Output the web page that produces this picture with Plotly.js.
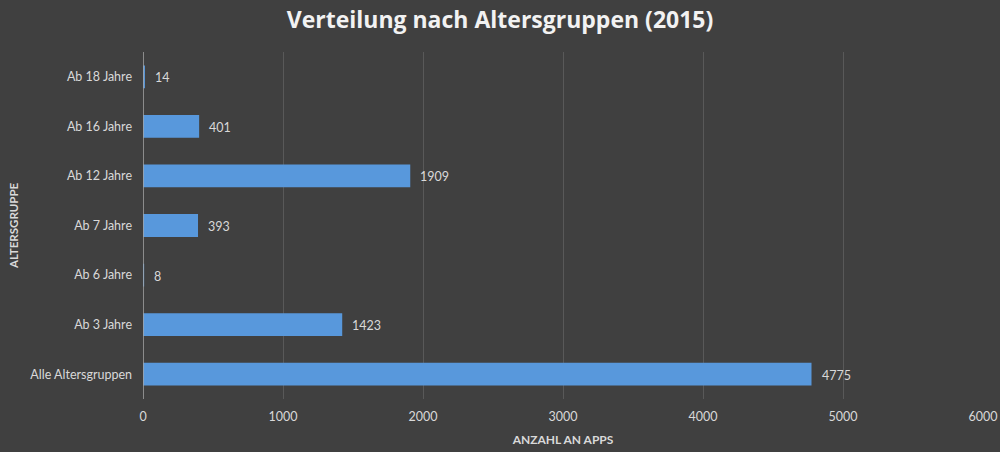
<!DOCTYPE html>
<html>
<head>
<meta charset="utf-8">
<script src="https://cdn.plot.ly/plotly-3.0.1.min.js"></script>
<style>html,body{margin:0;padding:0;background:#404040;}#chart{width:1000px;height:452px;}</style>
</head>
<body>
<div id="chart"></div>
<script>
const categories = ["Alle Altersgruppen", "Ab 3 Jahre", "Ab 6 Jahre", "Ab 7 Jahre", "Ab 12 Jahre", "Ab 16 Jahre", "Ab 18 Jahre"];
const values = [4775, 1423, 8, 393, 1909, 401, 14];
const xTicks = [0, 1000, 2000, 3000, 4000, 5000, 6000];

const font = "Lato, 'Open Sans', sans-serif";
const trace = {
  type: "bar",
  orientation: "h",
  y: categories,
  x: values,
  width: 0.46,
  marker: {color: "#5898dc", line: {width: 0}},
  hoverinfo: "none"
};

const labels = categories.map((c, i) => ({
  x: values[i], y: c, xref: "x", yref: "y",
  text: String(values[i]), showarrow: false,
  xanchor: "left", yanchor: "middle", xshift: 8, yshift: -1,
  font: {family: font, size: 12.5, color: "#d9d9d9"}
}));

const layout = {
  width: 1000, height: 452,
  paper_bgcolor: "#404040", plot_bgcolor: "#404040",
  margin: {l: 143, r: 17, t: 52, b: 53},
  showlegend: false,
  title: {text: "<b>Verteilung nach Altersgruppen (2015)</b>", x: 0.5, xanchor: "center", y: 0.955, yanchor: "middle",
          font: {family: "'Open Sans', sans-serif", size: 23, color: "#f2f2f2"}},
  xaxis: {
    range: [0, 6000], tickvals: xTicks, ticktext: xTicks.map(String),
    showgrid: true, gridcolor: "#595959", gridwidth: 1,
    zeroline: false, showline: false, ticks: "",
    tickfont: {family: font, size: 12.5, color: "#d9d9d9"},
    ticklabelstandoff: 8,
    title: {text: "<b>ANZAHL AN APPS</b>", font: {family: font, size: 12, color: "#d9d9d9"}, standoff: 13}
  },
  yaxis: {
    type: "category",
    showgrid: false, zeroline: false, ticks: "",
    showline: false,
    tickfont: {family: font, size: 12.5, color: "#d9d9d9"},
    ticklabelstandoff: 10,
    title: {text: "<b>ALTERSGRUPPE</b>", font: {family: font, size: 11.5, color: "#d9d9d9"}, standoff: 9}
  },
  annotations: labels,
  shapes: [{type: "line", xref: "x", yref: "paper", x0: 0, x1: 0, y0: 0, y1: 1, line: {color: "#a6a6a6", width: 1.5}}]
};

Plotly.newPlot("chart", [trace], layout, {displayModeBar: false, staticPlot: true});
</script>
</body>
</html>
